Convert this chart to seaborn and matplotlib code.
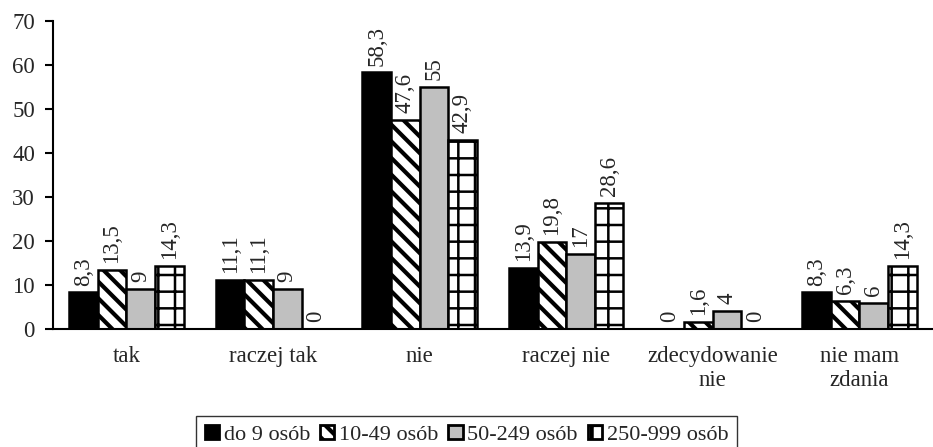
import matplotlib
matplotlib.use("Agg")
import matplotlib.pyplot as plt
import seaborn as sns
import pandas as pd
from matplotlib.patches import Patch

# Survey answers and company-size groups
categories = ["tak", "raczej tak", "nie", "raczej nie", "zdecydowanie\nnie", "nie mam\nzdania"]
groups = ["do 9 osób", "10-49 osób", "50-249 osób", "250-999 osób"]
do_9 = [8.3, 11.1, 58.3, 13.9, 0, 8.3]
od_10_49 = [13.5, 11.1, 47.6, 19.8, 1.6, 6.3]
od_50_249 = [9, 9, 55, 17, 4, 6]
od_250_999 = [14.3, 0, 42.9, 28.6, 0, 14.3]
yticks = [0, 10, 20, 30, 40, 50, 60, 70]

series = [do_9, od_10_49, od_50_249, od_250_999]
df = pd.DataFrame(
    [(c, g, v) for g, vals in zip(groups, series) for c, v in zip(categories, vals)],
    columns=["kategoria", "grupa", "wartosc"],
)

sns.set_theme(style="white")
plt.rcParams["font.family"] = ["Liberation Serif", "DejaVu Serif"]
plt.rcParams["hatch.linewidth"] = 3.0
plt.rcParams["hatch.color"] = "black"

fills = ["black", "white", "#c0c0c0", "white"]
hatches = [None, "\\\\", None, "+"]

fig = plt.figure(figsize=(9.33, 4.47), dpi=100)
ax = fig.add_axes([0.0568, 0.264, 0.943, 0.689])

sns.barplot(
    data=df, x="kategoria", y="wartosc", hue="grupa",
    order=categories, hue_order=groups, palette=fills,
    edgecolor="black", linewidth=1.8, width=0.78, saturation=1,
    legend=False, ax=ax,
)

fs = 16.5
for cont, h, vals in zip(ax.containers, hatches, series):
    for bar in cont:
        bar.set_edgecolor("black")
        if h:
            bar.set_hatch(h)
            if h == "+" and hasattr(bar, "set_hatch_linewidth"):
                bar.set_hatch_linewidth(1.8)
    labels = [f"{v:g}".replace(".", ",") for v in vals]
    ax.bar_label(cont, labels=labels, rotation=90, padding=5, fontsize=fs)

ax.set_xlim(-0.5, len(categories) - 0.5)
ax.set_ylim(0, 70)
ax.set_yticks(yticks)
ax.set_yticklabels([str(t) for t in yticks], fontsize=fs)
ax.set_xticks(range(len(categories)))
ax.set_xticklabels(categories, fontsize=fs)
ax.set_xticks([i + 0.5 for i in range(-1, len(categories))], minor=True)
ax.tick_params(axis="x", which="major", length=0, pad=12)
ax.tick_params(axis="x", which="minor", length=6, width=1.5, direction="out", color="black")
ax.tick_params(axis="y", length=6, width=1.5, direction="out", color="black", pad=7, left=True)
ax.set_xlabel("")
ax.set_ylabel("")
for side in ["top", "right"]:
    ax.spines[side].set_visible(False)
for side in ["left", "bottom"]:
    ax.spines[side].set_color("black")
    ax.spines[side].set_linewidth(1.5)

handles = []
for f, h in zip(fills, hatches):
    p = Patch(facecolor=f, edgecolor="black", hatch=h, linewidth=2.0)
    if h == "+" and hasattr(p, "set_hatch_linewidth"):
        p.set_hatch_linewidth(1.8)
    handles.append(p)
leg = fig.legend(
    handles, groups, loc="lower center", bbox_to_anchor=(0.5, -0.03), ncol=4,
    fontsize=16, frameon=True, fancybox=False, edgecolor="black",
    handlelength=0.65, handleheight=0.65, handletextpad=0.2,
    columnspacing=0.45, borderpad=0.4, borderaxespad=0.3,
)
leg.get_frame().set_linewidth(1.0)

fig.savefig("out.png", dpi=100)
